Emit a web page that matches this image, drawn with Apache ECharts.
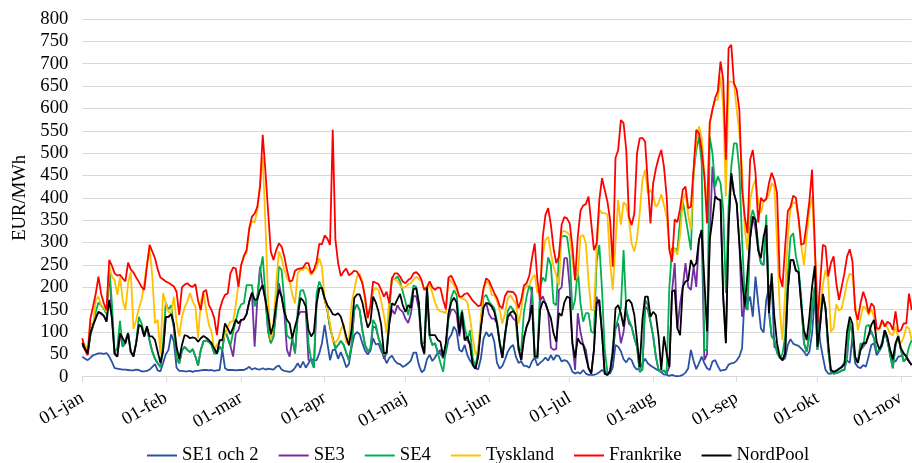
<!DOCTYPE html>
<html>
<head>
<meta charset="utf-8">
<script src="https://cdn.jsdelivr.net/npm/echarts@6/dist/echarts.min.js"></script>
<style>html,body{margin:0;padding:0;background:#fff}#c{width:912px;height:463px}</style>
</head>
<body>
<div id="c"></div>
<script>
// Daily prices, 1 Jan .. 5 Nov (309 days), EUR/MWh
const monthStarts = [0,31,59,90,120,151,181,212,243,273,304];
const monthLabels = ['01-jan','01-feb','01-mar','01-apr','01-maj','01-jun','01-jul','01-aug','01-sep','01-okt','01-nov'];
const yTicks = {min:0, max:800, step:50};

const se12 = [45,40,37,42,48,50,52,52,51,53,
45,33,19,18,17,16,16,15,14,14,
16,15,12,12,13,16,22,28,14,12,
30,50,60,95,78,20,13,13,12,12,
13,11,13,13,14,15,15,14,15,13,
14,15,60,19,15,15,15,14,15,15,
15,18,22,16,19,17,16,19,16,18,
17,16,22,25,16,13,12,11,13,20,
30,20,34,20,30,40,36,37,52,75,
116,75,37,60,60,40,55,40,21,28,
66,93,100,95,75,58,50,58,86,72,
74,58,46,30,42,47,36,30,28,22,
25,30,36,54,54,26,10,15,39,49,
35,43,54,52,41,54,84,93,112,102,
60,56,71,48,36,28,19,16,40,85,
100,90,97,78,31,18,24,39,56,66,
71,45,31,34,24,24,20,34,43,25,
31,36,43,36,48,37,48,46,34,37,
35,26,11,7,10,7,15,7,4,4,
4,6,10,15,11,10,7,21,71,67,
57,39,32,42,37,22,16,19,30,40,
30,25,21,17,14,10,5,4,2,4,
2,1,2,4,9,19,60,35,17,30,
45,30,19,15,34,37,24,13,15,16,
27,30,31,36,45,63,187,164,179,134,
224,164,108,99,172,200,209,67,61,46,
37,41,71,84,74,71,69,63,56,47,
56,97,175,149,78,45,15,7,7,10,
14,18,22,31,36,31,90,30,22,19,
26,22,45,71,75,48,58,69,104,78,
58,36,34,45,46,51,45,35,26];

const se3 = [70,60,50,93,114,131,145,140,136,123,
245,131,50,45,97,67,75,97,55,45,
75,116,112,90,110,80,56,40,30,22,
58,134,134,140,110,40,30,58,67,60,
55,62,45,25,60,79,81,78,71,52,
52,67,60,104,87,69,45,97,104,127,
128,140,168,188,67,173,246,200,172,101,
75,90,149,209,179,145,60,45,86,52,
134,145,145,145,37,37,20,164,198,198,
173,149,110,86,63,71,80,72,54,37,
70,149,161,149,104,71,57,63,112,110,
86,69,40,52,119,150,140,160,150,145,
130,120,140,180,180,150,70,50,190,90,
71,75,54,60,45,70,130,150,150,140,
90,130,82,82,71,26,18,45,110,155,
165,140,130,130,119,76,42,90,134,140,
130,125,60,37,86,112,127,201,45,41,
170,180,164,146,65,60,62,194,200,265,
265,200,75,15,142,100,72,60,19,7,
60,179,160,97,7,4,10,52,108,120,
75,100,150,119,112,86,67,11,16,157,
150,123,90,45,15,11,14,7,22,190,
254,108,164,201,254,201,194,246,201,306,
328,37,50,306,470,403,397,395,179,75,
336,455,410,388,298,134,157,149,310,358,
330,283,254,250,339,142,90,82,54,42,
37,52,194,261,261,237,234,160,75,56,
93,153,201,60,115,185,153,60,10,7,
8,10,14,15,45,123,93,41,31,60,
67,75,93,101,86,56,58,73,104,82,
48,19,71,90,60,34,41,34,26];

const se4 = [75,63,52,93,114,145,166,159,152,140,
246,164,52,65,125,67,82,98,55,48,
75,134,119,95,110,80,56,40,30,22,
75,165,150,160,110,40,30,58,67,60,
55,62,45,25,60,79,81,78,71,52,
52,67,60,104,87,69,100,124,149,162,
164,205,205,205,157,179,235,269,183,101,
75,90,149,246,239,172,93,86,86,52,
149,192,194,175,75,37,20,187,213,198,
173,149,110,86,63,71,80,72,54,37,
70,155,161,149,104,71,57,63,127,116,
86,69,48,52,145,222,218,224,213,190,
168,138,168,204,201,164,75,75,200,90,
71,75,54,30,11,60,138,177,193,183,
119,149,112,82,104,41,21,60,120,178,
183,168,161,153,123,77,49,90,147,158,
150,139,60,60,145,179,205,187,45,41,
200,222,213,267,250,164,160,269,313,315,
313,269,149,172,242,164,123,142,142,101,
97,257,295,194,60,10,10,67,108,131,
153,283,150,127,112,86,67,11,16,172,
160,123,90,45,15,11,14,7,200,287,
287,283,351,392,358,321,283,455,507,536,
480,60,60,537,500,425,448,433,373,187,
380,470,522,522,463,306,179,149,350,373,
351,295,254,250,362,150,90,82,54,42,
51,90,228,313,321,269,242,175,75,56,
93,153,201,60,134,185,153,60,10,7,
8,10,14,15,45,123,93,41,36,75,
67,112,116,101,86,56,58,78,104,82,
48,19,71,93,60,34,41,67,82];

const tyskland = [78,71,60,119,116,172,179,160,154,145,
246,224,216,183,224,172,149,209,235,107,
127,153,172,209,254,287,224,119,127,52,
187,164,145,142,179,123,90,134,155,168,
187,168,157,86,168,187,149,116,101,60,
71,78,82,93,112,123,123,160,209,250,
272,276,328,347,345,373,430,492,343,172,
82,119,209,280,265,239,220,213,183,164,
231,239,239,245,239,227,237,245,265,246,
172,149,119,82,76,84,104,119,75,82,
164,194,224,230,213,168,131,153,192,198,
194,168,138,97,172,220,218,214,205,198,
201,207,209,218,224,218,213,195,194,205,
187,166,151,146,145,142,220,213,205,192,
179,174,173,166,131,87,50,60,134,194,
213,209,183,182,170,149,119,142,175,182,
172,164,119,149,195,203,205,220,228,187,
209,272,306,313,276,246,227,204,324,326,
323,317,261,216,227,313,317,298,213,149,
149,283,373,366,366,362,254,194,298,395,
340,390,384,351,298,280,310,366,440,463,
410,418,403,380,388,408,384,358,291,265,
287,273,317,395,410,362,328,459,526,560,
534,455,377,567,597,619,619,671,604,403,
660,660,656,597,545,463,330,283,395,425,
441,392,366,391,396,407,433,425,298,149,
82,187,313,375,390,388,351,291,250,313,
373,403,283,183,153,205,239,216,101,108,
162,148,153,179,213,231,227,164,104,131,
157,153,138,151,134,104,106,121,119,110,
95,93,112,86,75,88,112,108,82];

const frankrike = [86,60,48,130,157,186,224,185,164,149,
261,248,231,226,228,220,213,255,240,233,
222,212,201,194,246,295,280,265,240,222,
218,213,210,206,202,190,138,200,206,209,
203,201,207,170,149,190,194,160,149,131,
93,149,170,183,186,231,244,242,201,250,
269,283,332,358,365,380,425,541,460,370,
280,261,283,298,291,269,239,213,215,237,
241,242,244,254,254,231,239,257,297,296,
316,309,295,552,306,254,225,235,242,227,
231,237,235,224,209,179,131,160,213,210,
207,194,179,190,164,220,231,231,224,213,
209,216,220,231,234,228,216,194,201,213,
200,194,200,198,172,151,222,226,213,200,
179,179,185,187,179,170,164,158,160,198,
220,215,201,187,176,158,153,181,191,190,
189,182,153,172,204,209,226,265,298,216,
172,313,362,377,340,287,254,269,340,357,
354,343,291,216,313,371,383,386,403,343,
283,298,395,444,418,392,351,246,489,507,
574,567,507,358,339,365,500,533,534,526,
433,343,433,465,489,507,470,403,283,257,
352,346,376,418,425,377,380,463,552,545,
507,448,343,567,597,623,638,705,664,485,
735,742,656,642,597,420,358,321,485,507,
455,345,400,392,398,433,456,440,410,224,
201,290,370,380,405,400,354,295,298,343,
392,463,300,119,209,295,291,224,254,269,
209,172,201,231,269,285,258,149,127,164,
190,172,142,164,157,108,108,127,112,123,
119,104,146,101,104,119,119,186,149];

const nordpool = [75,63,52,97,116,131,145,142,136,123,
172,131,52,45,97,86,75,97,56,45,
75,116,112,90,113,90,90,82,56,31,
58,134,134,140,119,67,39,71,93,91,
86,88,86,78,86,91,87,82,75,63,
52,82,82,119,108,95,110,128,119,127,
128,140,168,188,172,173,194,205,172,138,
95,116,164,194,179,145,127,119,86,112,
134,176,170,157,104,90,100,164,198,199,
176,160,151,140,138,142,134,114,90,70,
105,176,184,184,166,136,110,122,179,166,
145,116,52,54,119,164,160,173,185,160,
145,160,154,196,198,164,75,52,200,93,
93,93,82,78,45,75,142,166,177,166,
97,145,82,90,71,26,18,45,110,155,
165,163,157,145,119,76,42,97,134,143,
147,138,67,37,86,112,127,160,45,45,
149,169,164,146,131,97,78,142,136,166,
179,176,75,42,86,75,72,45,19,7,
60,164,172,97,7,4,13,52,153,160,
142,112,168,172,164,138,82,22,127,179,
179,134,145,138,90,15,90,52,22,190,
194,108,93,201,213,216,261,246,254,306,
328,216,101,306,351,403,397,395,179,75,
336,455,410,388,298,216,157,230,310,358,
351,283,265,313,339,142,231,134,75,45,
37,52,194,261,261,237,234,160,104,82,
134,201,248,67,115,185,153,75,15,11,
13,17,21,28,101,134,119,45,31,60,
75,75,93,116,127,78,61,73,104,88,
60,39,75,90,63,53,45,34,26];

const seriesNames = ['SE1 och 2','SE3','SE4','Tyskland','Frankrike','NordPool'];
const seriesData = [se12, se3, se4, tyskland, frankrike, nordpool];
const seriesColors = ['#2A52A4','#7030A0','#00B050','#FFC000','#FF0000','#000000'];

const days = se12.map((_, i) => i);
const isMonthStart = (i) => monthStarts.indexOf(i) >= 0;
const FONT = 'Liberation Serif';
const FS = 18.67;

const chart = echarts.init(document.getElementById('c'), null, {renderer: 'canvas'});
chart.setOption({
  animation: false,
  backgroundColor: '#ffffff',
  grid: {left: 82.3, top: 19, width: 829.4, height: 357.7, containLabel: false},
  legend: {
    data: seriesNames,
    left: 142, top: 441,
    itemWidth: 30, itemHeight: 2, itemGap: 20,
    icon: 'rect',
    textStyle: {fontFamily: FONT, fontSize: FS, color: '#000'}
  },
  xAxis: {
    type: 'category',
    data: days,
    boundaryGap: false,
    axisLine: {lineStyle: {color: '#D9D9D9', width: 1}},
    axisTick: {show: true, length: 5, interval: (i) => isMonthStart(i), lineStyle: {color: '#D9D9D9'}},
    axisLabel: {
      interval: (i) => isMonthStart(i),
      formatter: (v, i) => { const k = monthStarts.indexOf(Number(v)); return k >= 0 ? monthLabels[k] : ''; },
      rotate: 30, margin: 20,
      fontFamily: FONT, fontSize: FS, color: '#000'
    },
    splitLine: {show: false}
  },
  yAxis: {
    type: 'value',
    min: yTicks.min, max: yTicks.max, interval: yTicks.step,
    name: 'EUR/MWh', nameLocation: 'middle', nameRotate: 90, nameGap: 51,
    nameTextStyle: {fontFamily: FONT, fontSize: FS, color: '#000'},
    axisLine: {show: false}, axisTick: {show: false},
    axisLabel: {fontFamily: FONT, fontSize: FS, color: '#000', margin: 14},
    splitLine: {lineStyle: {color: '#D9D9D9', width: 1}}
  },
  series: seriesNames.map((n, k) => ({
    name: n, type: 'line', data: seriesData[k],
    showSymbol: false, symbol: 'none',
    lineStyle: {color: seriesColors[k], width: 1.8},
    itemStyle: {color: seriesColors[k]},
    emphasis: {disabled: true}
  }))
});
</script>
</body>
</html>
